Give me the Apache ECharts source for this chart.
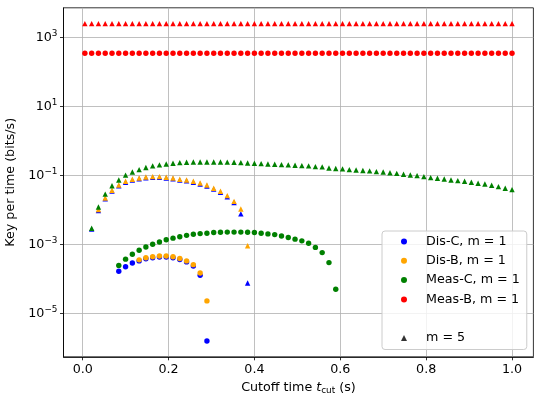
<!DOCTYPE html>
<html>
<head>
<meta charset="utf-8">
<script src="https://cdn.jsdelivr.net/npm/echarts@6/dist/echarts.min.js"></script>
<style>
  html, body { margin: 0; padding: 0; background: #fff; }
  #chart { width: 541px; height: 403px; }
</style>
</head>
<body>
<div id="chart"></div>
<script>
// cutoff times (s), shared by every series
const tCut = [
  0.0050, 0.0208, 0.0366, 0.0524, 0.0682, 0.0840, 0.0998, 0.1156,
  0.1314, 0.1471, 0.1629, 0.1787, 0.1945, 0.2103, 0.2261, 0.2419,
  0.2577, 0.2735, 0.2893, 0.3051, 0.3209, 0.3367, 0.3525, 0.3683,
  0.3841, 0.3999, 0.4156, 0.4314, 0.4472, 0.4630, 0.4788, 0.4946,
  0.5104, 0.5262, 0.5420, 0.5578, 0.5736, 0.5894, 0.6052, 0.6210,
  0.6368, 0.6526, 0.6683, 0.6841, 0.6999, 0.7157, 0.7315, 0.7473,
  0.7631, 0.7789, 0.7947, 0.8105, 0.8263, 0.8421, 0.8579, 0.8737,
  0.8895, 0.9053, 0.9210, 0.9368, 0.9526, 0.9684, 0.9842, 1.0000
]

// key per time (bits/s); each list begins at index *Start of tCut
const disC1Start = 5
const disC1 = [1.66e-4, 2.24e-4, 2.88e-4, 3.31e-4, 3.80e-4, 4.07e-4, 4.27e-4, 4.27e-4,
  4.07e-4, 3.63e-4, 3.09e-4, 2.34e-4, 1.26e-4, 1.58e-6]

const disB1Start = 8
const disB1 = [3.55e-4, 4.07e-4, 4.37e-4, 4.57e-4, 4.57e-4, 4.37e-4, 3.89e-4, 3.31e-4,
  2.57e-4, 1.48e-4, 2.29e-5]

const measC1Start = 5
const measC1 = [2.45e-4, 3.72e-4, 5.13e-4, 6.76e-4, 8.32e-4, 1.00e-3, 1.17e-3, 1.35e-3,
  1.51e-3, 1.66e-3, 1.82e-3, 1.95e-3, 2.04e-3, 2.09e-3, 2.19e-3, 2.24e-3,
  2.26e-3, 2.26e-3, 2.26e-3, 2.24e-3, 2.19e-3, 2.09e-3, 2.00e-3, 1.91e-3,
  1.74e-3, 1.58e-3, 1.41e-3, 1.26e-3, 1.07e-3, 8.13e-4, 5.75e-4, 2.95e-4, 5.0e-5]

const measB1Start = 0
const measB1 = [
  343, 343, 343, 343, 343, 343, 343, 343, 343, 343, 343, 343, 343, 343, 343, 343,
  343, 343, 343, 343, 343, 343, 343, 343, 343, 343, 343, 343, 343, 343, 343, 343,
  343, 343, 343, 343, 343, 343, 343, 343, 343, 343, 343, 343, 343, 343, 343, 343,
  343, 343, 343, 343, 343, 343, 343, 343, 343, 343, 343, 343, 343, 343, 343, 343
]

const disC5Start = 1
const disC5 = [2.75e-3, 9.5e-3, 0.0209, 0.0347, 0.0495, 0.0631, 0.0724, 0.0794,
  0.0851, 0.0871, 0.0871, 0.0832, 0.0794, 0.0724, 0.0692, 0.0631,
  0.0562, 0.0490, 0.0398, 0.0324, 0.0240, 0.0162, 7.6e-3, 7.6e-5]

const disB5Start = 2
const disB5 = [0.0102, 0.0220, 0.0367, 0.0525, 0.0670, 0.0766, 0.0838, 0.0895,
  0.0914, 0.0914, 0.0875, 0.0838, 0.0766, 0.0733, 0.0670, 0.0600,
  0.0525, 0.0420, 0.0344, 0.0258, 0.0176, 0.0106, 9.1e-4]

const measC5Start = 1
const measC5 = [2.91e-3, 0.0120, 0.0285, 0.0500, 0.0733, 0.101, 0.124, 0.146,
  0.168, 0.187, 0.200, 0.213, 0.223, 0.233, 0.238, 0.243,
  0.243, 0.243, 0.243, 0.243, 0.241, 0.238, 0.233, 0.228,
  0.223, 0.218, 0.213, 0.210, 0.204, 0.200, 0.195, 0.191,
  0.187, 0.178, 0.175, 0.163, 0.158, 0.153, 0.146, 0.143,
  0.138, 0.134, 0.128, 0.125, 0.119, 0.114, 0.107, 0.102,
  0.0977, 0.0914, 0.0855, 0.0818, 0.0783, 0.0733, 0.0700, 0.0670,
  0.0627, 0.0586, 0.0561, 0.0513, 0.0469, 0.0420, 0.0385]

const measB5Start = 0
const measB5 = [
  2480, 2480, 2480, 2480, 2480, 2480, 2480, 2480, 2480, 2480, 2480, 2480, 2480, 2480, 2480, 2480,
  2480, 2480, 2480, 2480, 2480, 2480, 2480, 2480, 2480, 2480, 2480, 2480, 2480, 2480, 2480, 2480,
  2480, 2480, 2480, 2480, 2480, 2480, 2480, 2480, 2480, 2480, 2480, 2480, 2480, 2480, 2480, 2480,
  2480, 2480, 2480, 2480, 2480, 2480, 2480, 2480, 2480, 2480, 2480, 2480, 2480, 2480, 2480, 2480
]

const xTicks = [0, 0.2, 0.4, 0.6, 0.8, 1.0]
const yTicks = [1e-5, 1e-3, 1e-1, 1e1, 1e3]

const FONT = 'DejaVu Sans'
const FS = 12.7

const pts = (start, vals) => vals.map((v, k) => [tCut[start + k], v])

const scatter = (name, color, symbol, start, vals) => ({
  name,
  type: 'scatter',
  symbol,
  symbolSize: 5.4,
  itemStyle: { color, opacity: 1 },
  emphasis: { disabled: true },
  data: pts(start, vals)
})

const chart = echarts.init(document.getElementById('chart'), null, { renderer: 'canvas' })

const option = {
  animation: false,
  backgroundColor: '#fff',
  textStyle: { fontFamily: FONT },
  grid: {
    left: 63.5, right: 7.6, top: 7.8, bottom: 46.2,
    outerBoundsMode: 'none',
    containLabel: false,
    show: true, borderColor: '#000', borderWidth: 0.8
  },
  xAxis: {
    type: 'value',
    min: -0.0448,
    max: 1.0498,
    name: '{n|Cutoff time }{t|t}{s|cut}{n| (s)}',
    nameLocation: 'middle',
    nameGap: 21,
    nameTextStyle: {
      rich: {
        n: { fontFamily: FONT, fontSize: FS, color: '#000' },
        t: { fontFamily: FONT, fontSize: FS, fontStyle: 'italic', color: '#000' },
        s: { fontFamily: FONT, fontSize: 8.9, color: '#000', padding: [7, 0, 0, 0] }
      }
    },
    axisLine: { show: true, onZero: false, lineStyle: { color: '#000', width: 0.8 } },
    axisTick: { show: true, length: 3.5, customValues: xTicks, lineStyle: { color: '#000', width: 0.8 } },
    axisLabel: {
      customValues: xTicks,
      margin: 6,
      fontFamily: FONT, fontSize: FS, color: '#000',
      formatter: v => v.toFixed(1)
    },
    splitLine: { show: true, lineStyle: { color: '#b0b0b0', width: 0.8 } }
  },
  yAxis: {
    type: 'log',
    logBase: 10,
    min: Math.pow(10, -6.26),
    max: Math.pow(10, 3.854),
    name: 'Key per time (bits/s)',
    nameLocation: 'middle',
    nameGap: 40,
    nameTextStyle: { fontFamily: FONT, fontSize: FS, color: '#000' },
    axisLine: { show: true, onZero: false, lineStyle: { color: '#000', width: 0.8 } },
    axisTick: { show: true, length: 3.5, customValues: yTicks, lineStyle: { color: '#000', width: 0.8 } },
    axisLabel: {
      customValues: yTicks,
      margin: 6,
      color: '#000',
      formatter: v => {
        const e = Math.round(Math.log10(v))
        return '{b|10}{s|' + (e < 0 ? '\u2212' + (-e) : e) + '}'
      },
      rich: {
        b: { fontFamily: FONT, fontSize: FS, color: '#000' },
        s: { fontFamily: FONT, fontSize: 8.9, color: '#000', padding: [0, 0, 7, 0] }
      }
    },
    splitLine: { show: true, lineStyle: { color: '#b0b0b0', width: 0.8 } }
  },
  legend: {
    orient: 'vertical',
    left: 382,
    top: 231,
    selectedMode: false,
    itemWidth: 6,
    itemHeight: 6,
    itemGap: 4.3,
    padding: [3, 7, 4, 19],
    backgroundColor: 'rgba(255,255,255,0.8)',
    borderColor: '#cccccc',
    borderWidth: 1,
    borderRadius: 3,
    textStyle: { fontFamily: FONT, fontSize: FS, color: '#000', lineHeight: 15, padding: [0, 0, 0, 14] },
    data: [
      { name: 'Dis-C, m = 1', icon: 'circle' },
      { name: 'Dis-B, m = 1', icon: 'circle' },
      { name: 'Meas-C, m = 1', icon: 'circle' },
      { name: 'Meas-B, m = 1', icon: 'circle' },
      { name: ' ', icon: 'rect', itemStyle: { opacity: 0 } },
      { name: 'm = 5', icon: 'triangle' }
    ]
  },
  series: [
    scatter('Dis-C, m = 1', '#0000ff', 'circle', disC1Start, disC1),
    scatter('Dis-C, m = 5', '#0000ff', 'triangle', disC5Start, disC5),
    scatter('Dis-B, m = 1', '#ffa500', 'circle', disB1Start, disB1),
    scatter('Dis-B, m = 5', '#ffa500', 'triangle', disB5Start, disB5),
    scatter('Meas-C, m = 1', '#008000', 'circle', measC1Start, measC1),
    scatter('Meas-C, m = 5', '#008000', 'triangle', measC5Start, measC5),
    scatter('Meas-B, m = 1', '#ff0000', 'circle', measB1Start, measB1),
    scatter('Meas-B, m = 5', '#ff0000', 'triangle', measB5Start, measB5),
    { name: ' ', type: 'scatter', data: [], itemStyle: { color: 'rgba(0,0,0,0)' } },
    { name: 'm = 5', type: 'scatter', symbol: 'triangle', data: [], itemStyle: { color: '#000' } }
  ]
}

chart.setOption(option)
</script>
</body>
</html>
